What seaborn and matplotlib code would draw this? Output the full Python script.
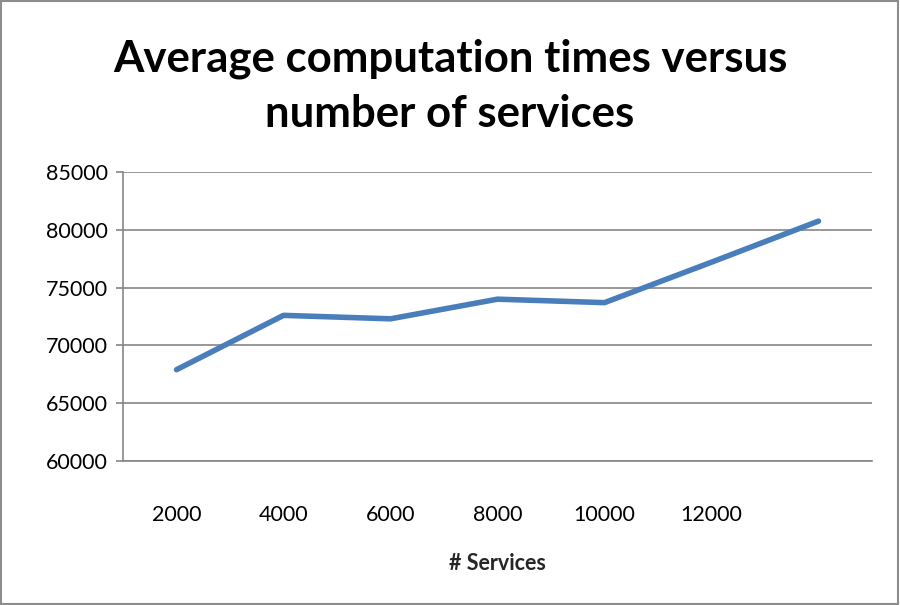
import matplotlib
matplotlib.use("Agg")
import matplotlib.pyplot as plt
import seaborn as sns
import pandas as pd
from matplotlib.patches import Rectangle
from matplotlib.ticker import FixedLocator

# values
services = ["2000", "4000", "6000", "8000", "10000", "12000", ""]
avg_time = [67900, 72600, 72300, 74000, 73700, 77200, 80750]
y_ticks = [60000, 65000, 70000, 75000, 80000, 85000]

sns.set_style("white")
plt.rcParams['font.family'] = ['Lato', 'DejaVu Sans']
plt.rcParams['text.color'] = 'black'
plt.rcParams['xtick.color'] = 'black'
plt.rcParams['ytick.color'] = 'black'

df = pd.DataFrame({"pos": range(len(services)), "time": avg_time})

fig = plt.figure(figsize=(9, 6.05), dpi=100)
ax = fig.add_axes([0.1367, 0.238, 0.8322, 0.4777])

sns.lineplot(data=df, x="pos", y="time", ax=ax, color="#4A7EBB", linewidth=4,
             solid_capstyle="round", solid_joinstyle="round")

grid_c = "#868686"
ax.set_xlim(-0.5, len(services) - 0.5)
ax.set_ylim(y_ticks[0], y_ticks[-1])
ax.set_yticks(y_ticks)
ax.set_yticklabels([str(v) for v in y_ticks], fontsize=15.5)
ax.yaxis.grid(True, color=grid_c, linewidth=1.2)
ax.set_axisbelow(True)

ax.set_xticks(range(len(services)))
ax.set_xticklabels(services, fontsize=15.5)
ax.xaxis.set_minor_locator(FixedLocator([i - 0.5 for i in range(len(services) + 1)]))
ax.tick_params(axis="x", which="major", length=0, pad=32)
ax.tick_params(axis="x", which="minor", length=6, width=1.2, color=grid_c, direction="out")
ax.tick_params(axis="y", length=5, width=1.2, color=grid_c, labelcolor="black",
               direction="out", left=True, pad=6)

for s in ["top", "right"]:
    ax.spines[s].set_visible(False)
for s in ["left", "bottom"]:
    ax.spines[s].set_color(grid_c)
    ax.spines[s].set_linewidth(1.2)

ax.set_xlabel("# Services", fontsize=15.5, fontweight="bold", labelpad=20)
ax.set_ylabel("")

fig.text(0.5, 0.858, "Average computation times versus\nnumber of services",
         ha="center", va="center", fontsize=31.5, fontweight="bold", linespacing=1.45)

fig.patches.append(Rectangle((0.001, 0.001), 0.997, 0.997, transform=fig.transFigure,
                             fill=False, edgecolor="#8c8c8c", linewidth=1.5))

fig.savefig("out.png", dpi=100)
